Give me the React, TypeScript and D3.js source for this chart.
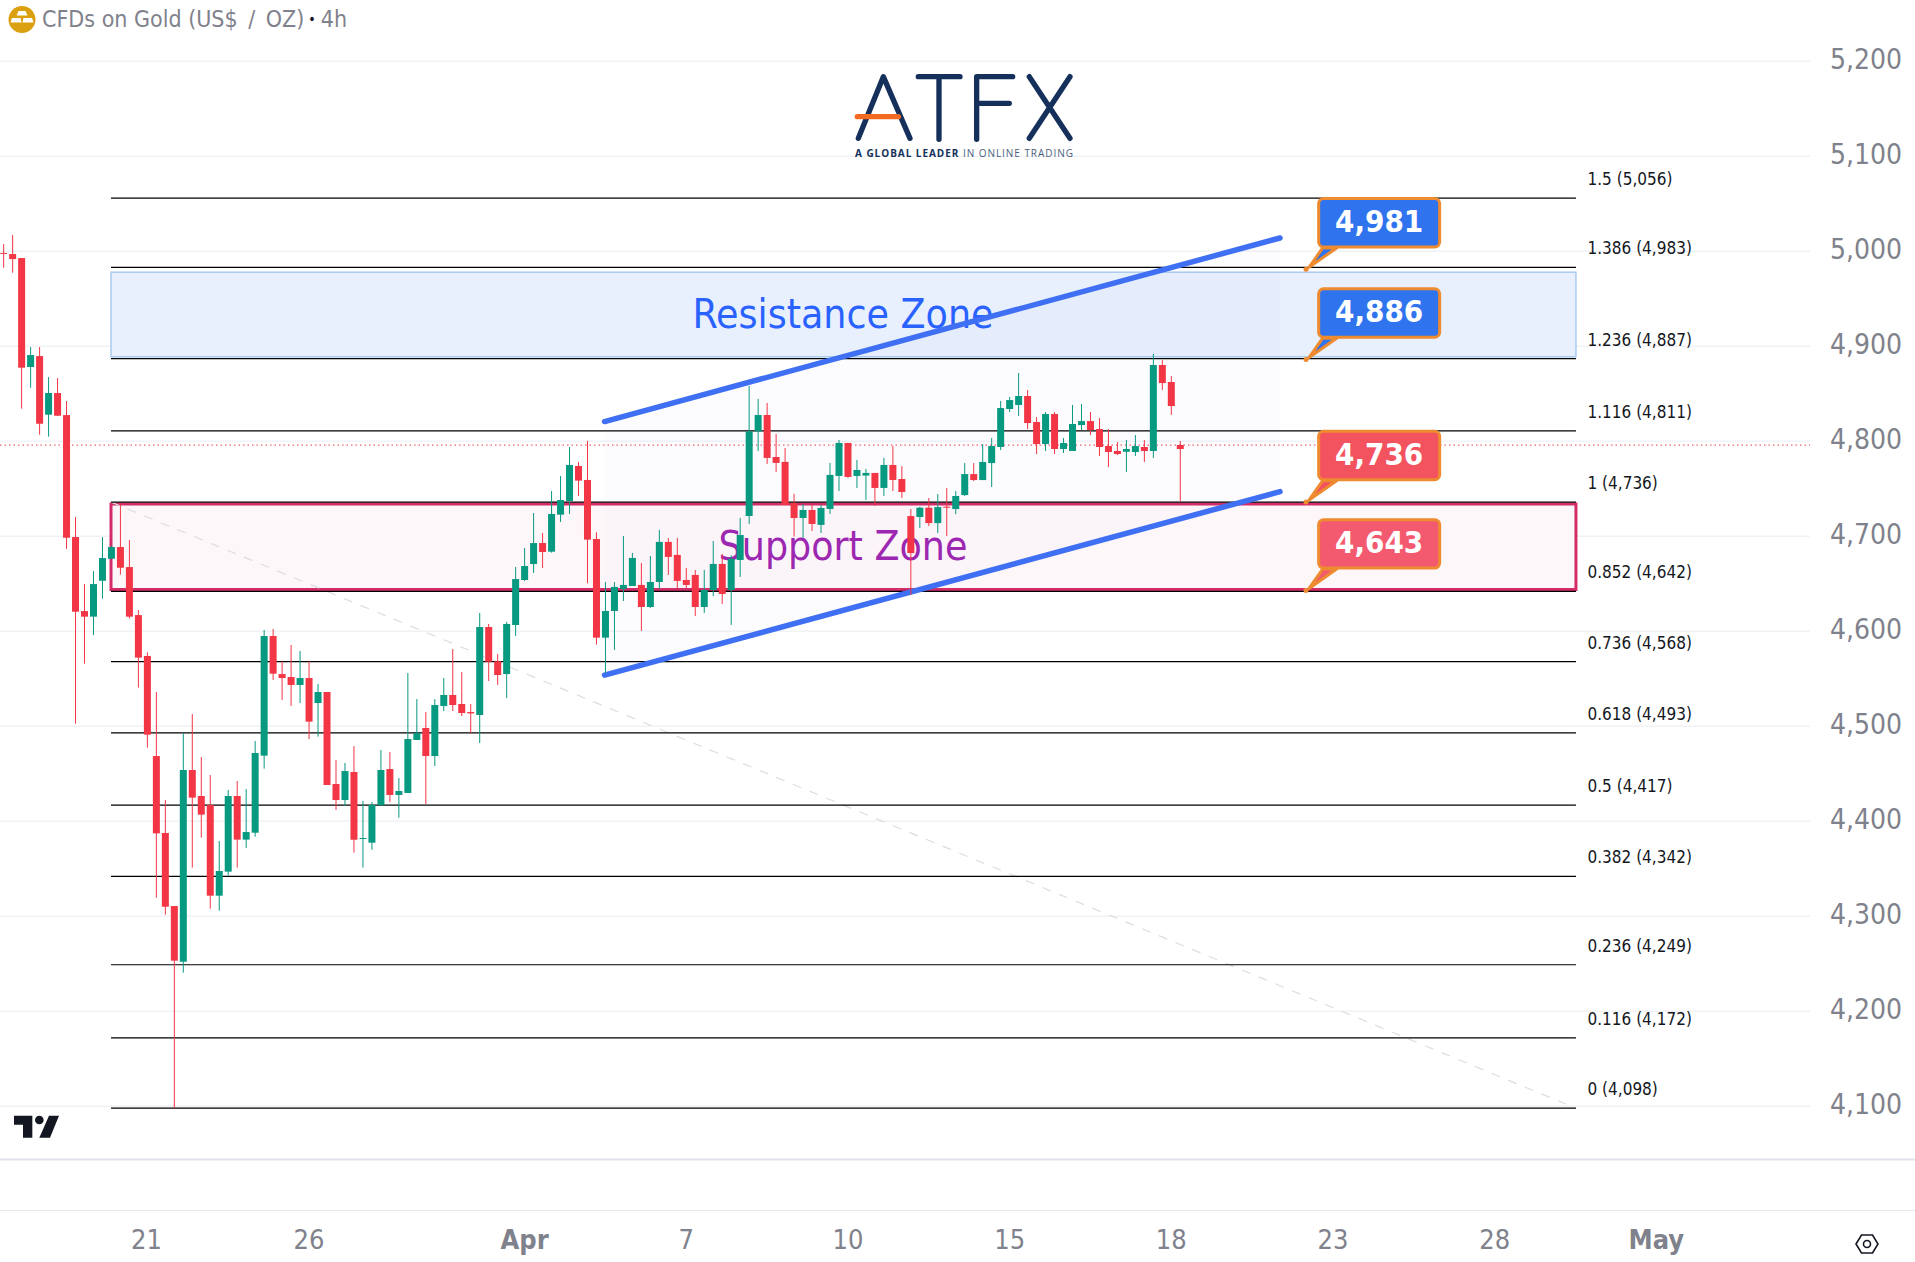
import * as d3 from "d3";

// prices, one entry per bar
const opens = [
  4998.3, 4997.1, 4992.9, 4878.2, 4889.7, 4828, 4850.8, 4827.6, 4699.2, 4621.3, 4615.4, 4653.2, 4676.4, 4688.7, 4667.6, 4617.1, 4574, 4468.7, 4387.7, 4310.8,
  4252.2, 4454, 4426.6, 4417.2, 4321.7, 4347, 4426.6, 4380.7, 4388, 4469.1, 4595, 4555, 4551.9, 4543.5, 4550.8, 4524.5, 4536.1, 4439.3, 4422.4, 4451.9,
  4381.4, 4377.5, 4416.8, 4455, 4427.7, 4429.8, 4485.6, 4498.2, 4468.7, 4521.4, 4533, 4523.5, 4515, 4511.9, 4604.5, 4568.4, 4555, 4606.6, 4654, 4670.8,
  4692.9, 4683.8, 4722.8, 4737.2, 4774, 4759.3, 4697.2, 4593.3, 4621.4, 4644.6, 4647.7, 4648.8, 4625.6, 4651.9, 4694.1, 4680.4, 4654, 4659.3, 4625.6, 4643.5,
  4670.9, 4643.5, 4675.1, 4721.4, 4810.5, 4827.7, 4783.5, 4778.3, 4735, 4719.3, 4727.7, 4712, 4728.8, 4763.5, 4798.3, 4763.5, 4763.9, 4766.7, 4750.9, 4775.1,
  4760.3, 4721.3, 4720.3, 4730.1, 4713.9, 4731.2, 4728.7, 4743.4, 4765.5, 4759.2, 4777.1, 4794, 4834, 4838.2, 4847.7, 4820.3, 4797.1, 4828.7, 4791.9, 4789.8,
  4817.1, 4821.3, 4812.9, 4795, 4789.8, 4789, 4788.7, 4794, 4789.8, 4880.3, 4862.4, 4796.1,
];
const highs = [
  5007.6, 5017.1, 4992.9, 4899.2, 4899.2, 4867.6, 4866.6, 4842.4, 4720.3, 4649.7, 4663.4, 4699.2, 4690, 4732.9, 4696, 4622.4, 4577.9, 4536.1, 4422.4, 4310.8,
  4492.6, 4512.9, 4467.7, 4448.7, 4379.3, 4432.9, 4442.4, 4434, 4484.5, 4601.4, 4602.4, 4568.4, 4585.6, 4579.3, 4568.4, 4544.5, 4536.1, 4464.5, 4461.4, 4479.2,
  4421.4, 4420.3, 4475, 4472.9, 4445.6, 4556.1, 4528.7, 4515, 4528.7, 4550.8, 4581.4, 4557.1, 4523.5, 4619.3, 4607.7, 4576.1, 4609.8, 4667.7, 4687.7, 4724.5,
  4703.5, 4747.7, 4763.5, 4794, 4778.2, 4800.4, 4704.2, 4651.9, 4651.9, 4700.4, 4682.5, 4672, 4679.3, 4706.7, 4698.3, 4698.3, 4666.7, 4664.6, 4664.6, 4695.1,
  4681.4, 4680, 4719.3, 4858.3, 4844.6, 4840.4, 4807.7, 4793, 4744.6, 4734, 4733, 4733, 4777.2, 4801.4, 4798.3, 4780.4, 4770.9, 4766.7, 4782.5, 4795.1,
  4773.9, 4728.7, 4731, 4740.3, 4744.5, 4750.8, 4747.7, 4777.1, 4777.1, 4797.1, 4803.4, 4842.4, 4846.6, 4871.9, 4854, 4825.5, 4830.8, 4830.8, 4803.4, 4838.2,
  4839.2, 4830.8, 4824.5, 4812.9, 4799.2, 4801.3, 4806.6, 4801.3, 4891.9, 4885.5, 4868.7, 4800.3,
];
const lows = [
  4982.7, 4977.5, 4834.3, 4856.4, 4806.9, 4804.8, 4826.9, 4686.9, 4502.8, 4565.9, 4596.1, 4634.3, 4676, 4659.6, 4613.3, 4540.7, 4477.5, 4319.6, 4301.7, 4097.9,
  4240.7, 4351.2, 4382.8, 4308, 4305.9, 4342.8, 4351.2, 4371.9, 4383.8, 4455.4, 4548.7, 4527.7, 4521.4, 4524.5, 4486.6, 4489.1, 4438.2, 4411.9, 4416.1, 4367,
  4351.2, 4370.1, 4416.8, 4420.3, 4403.8, 4429.8, 4485.6, 4418.2, 4458.2, 4516.1, 4516.1, 4510.8, 4492.6, 4482.4, 4547.7, 4543.5, 4529.8, 4595, 4652.9, 4661.4,
  4666.6, 4682.8, 4715.1, 4723.5, 4742.5, 4650.5, 4586, 4555.7, 4580.4, 4631.9, 4647.7, 4600.4, 4624.5, 4644.6, 4659.3, 4645.6, 4645.6, 4616.1, 4619.3, 4637.2,
  4628.8, 4606.7, 4657.2, 4713, 4789.8, 4776.2, 4767.7, 4733, 4699.7, 4698.3, 4705.6, 4703.5, 4723.5, 4747.7, 4761.5, 4750.9, 4738.3, 4732, 4742.5, 4747.7,
  4740.3, 4638.2, 4708.7, 4710.8, 4703.4, 4700.3, 4723.4, 4742.4, 4758.2, 4759.2, 4751.9, 4790.8, 4830.8, 4826.6, 4812.9, 4786.6, 4789.8, 4786.6, 4787.7, 4789.8,
  4811.9, 4806.6, 4784.5, 4772.9, 4785.5, 4767.7, 4784.5, 4778.2, 4782.4, 4854, 4827.7, 4736.8,
];
const closes = [
  4997.4, 4991.8, 4877.5, 4890.8, 4818.5, 4850.8, 4826.9, 4698.5, 4620.6, 4615.4, 4649.7, 4677.1, 4688.7, 4666.9, 4615.4, 4572.3, 4491.2, 4387.3, 4310.1, 4253.3,
  4454, 4424.9, 4407, 4321.7, 4347.7, 4426.6, 4380.7, 4388.7, 4471.9, 4595, 4555.4, 4550.8, 4543.5, 4550.8, 4504.9, 4536.1, 4438.2, 4422.4, 4452.9, 4380.6,
  4382.4, 4417.2, 4454, 4427.7, 4431.9, 4486.6, 4492.9, 4468.7, 4522.4, 4533, 4522.4, 4514, 4513.6, 4604.5, 4568, 4554, 4607.7, 4655, 4668.7, 4692.9,
  4683.5, 4723.5, 4738.2, 4775.1, 4758.6, 4696.5, 4593.3, 4621.4, 4646.7, 4648.8, 4677.2, 4625.6, 4651.9, 4694.1, 4678.3, 4653, 4648.8, 4625.6, 4643.5, 4670.9,
  4639.3, 4676.2, 4701.4, 4810.5, 4827.7, 4782.5, 4777.2, 4733, 4719.3, 4727.7, 4713, 4729.8, 4764.6, 4798.3, 4762.5, 4769.8, 4766.7, 4750.9, 4775.1, 4759.3,
  4746.6, 4682.4, 4730.1, 4713.9, 4730.8, 4730.1, 4742.4, 4765.5, 4759.2, 4778.2, 4795, 4835, 4843.4, 4847.7, 4819.2, 4797.1, 4828.7, 4791.9, 4798.2, 4818.2,
  4821.3, 4811.9, 4794, 4788.7, 4786.6, 4791.9, 4795, 4789.8, 4880.3, 4861.3, 4837.1, 4791.9,
];

const priceTicks = [5200, 5100, 5000, 4900, 4800, 4700, 4600, 4500, 4400, 4300, 4200, 4100];
const timeLabels = ["21", "26", "Apr", "7", "10", "15", "18", "23", "28", "May"];
const timeIndexes = [15.9, 34, 58, 76, 94, 112, 130, 148, 166, 184];
const boldLabels = ["Apr", "May"];

const fibRatios = ["1.5", "1.386", "1.236", "1.116", "1", "0.852", "0.736", "0.618", "0.5", "0.382", "0.236", "0.116", "0"];
const fibPrices = [5056, 4983, 4887, 4811, 4736, 4642, 4568, 4493, 4417, 4342, 4249, 4172, 4098];

const calloutPrices = [4981, 4886, 4736, 4643];
const calloutColors = ["#2f74ee", "#2f74ee", "#f2535f", "#f35a70"];

const lastPrice = 4796;
const fibStart = 11.95;
const fibEnd = 175.05;
const calloutIndex = 145;
const channelIndexes = [66.9, 142.1];
const channelUpper = [4820.8, 5014];
const channelLower = [4553.9, 4747];
const resistanceZone = [4978, 4889];
const supportZone = [4734, 4644];

const FONT = "'DejaVu Sans Condensed', 'DejaVu Sans', sans-serif";
const GREY = "#7f828c";
const RED = "#f23645";
const GREEN = "#089981";

const WIDTH = 1915;
const HEIGHT = 1262;

const x = d3.scaleLinear().domain([0, 131]).range([3.67, 1180.3]);
const y = d3.scaleLinear().domain([4100, 5000]).range([1106.3, 251.3]);
const fmt = d3.format(",");

const Logo = () => {
  const navy = "#15305b";
  return (
    <g transform="translate(820,50) scale(0.3333)" fill="none" stroke={navy} strokeWidth="16" strokeLinecap="round" strokeLinejoin="round">
      <path d="M115,265 L190,80 L270,265" />
      <path d="M295,80 L420,80 M357,80 L357,268" />
      <path d="M470,268 L470,80 L578,80 M470,160 L568,160" />
      <path d="M628,80 L750,265 M750,80 L628,265" />
      <path d="M112,200 L235,200" stroke="#f26b21" />
    </g>
  );
};

const TvLogo = () => (
  <g transform="translate(0,1080) scale(0.3333)" fill="#131722">
    <path d="M42,107 L97,107 L97,173 L69,173 L69,134 L42,134 Z" />
    <circle cx="118" cy="120" r="13" />
    <path d="M147,107 L177,107 L150,173 L118,173 Z" />
  </g>
);

const Header = () => (
  <g>
    <circle cx="22" cy="19.5" r="13.5" fill="#dba00f" />
    <path d="M18.5,11 L25.5,11 L27.5,15.5 L16.5,15.5 Z M12,18 L20.5,18 L21.5,22.5 L10.5,22.5 Z M23.5,18 L32,18 L33.5,22.5 L22.5,22.5 Z" fill="#fff" />
    <text x="42" y="20" dominantBaseline="middle" fontFamily={FONT} fontSize="23" fill={GREY}>
      CFDs on Gold (US$ <tspan dx="4">/</tspan> <tspan dx="4">OZ)</tspan>
      <tspan fill="#131722" fontSize="14" dx="4">•</tspan>
      <tspan dx="5">4h</tspan>
    </text>
  </g>
);

const Callout = ({ price, color }: { price: number; color: string }) => {
  const tipX = x(calloutIndex);
  const tipY = y(price);
  const left = tipX + 12.6;
  const bottom = tipY - 22.4;
  const top = bottom - 48.4;
  return (
    <g>
      <path d={`M${tipX + 3},${tipY - 2} L${left + 4},${bottom + 1} L${left + 18},${bottom + 1} Z`} fill={color} stroke="#ee8a2f" strokeWidth="3" strokeLinejoin="round" />
      <circle cx={tipX} cy={tipY} r="2.5" fill="#ee8a2f" />
      <rect x={left} y={top} width={121} height={48.4} rx="5" fill={color} stroke="#ee8a2f" strokeWidth="3" />
      <text x={left + 60.5} y={top + 25} textAnchor="middle" dominantBaseline="middle" fontFamily={FONT} fontWeight="bold" fontSize="31" fill="#fff">
        {fmt(price)}
      </text>
    </g>
  );
};

const App = () => {
  const bars = d3.range(opens.length);
  const channelPath = `M${x(channelIndexes[0])},${y(channelUpper[0])} L${x(channelIndexes[1])},${y(channelUpper[1])} L${x(channelIndexes[1])},${y(channelLower[1])} L${x(channelIndexes[0])},${y(channelLower[0])} Z`;
  return (
    <svg width={WIDTH} height={HEIGHT} style={{ position: "absolute", left: 0, top: 0, background: "#fff" }}>
      {priceTicks.map((p) => (
        <line key={p} x1={0} x2={1810} y1={y(p)} y2={y(p)} stroke="#f0f2f6" strokeWidth="1.5" />
      ))}
      <line x1={0} x2={WIDTH} y1={1159.5} y2={1159.5} stroke="#e0e3eb" strokeWidth="2" />
      <line x1={0} x2={WIDTH} y1={1210.5} y2={1210.5} stroke="#e6e8ee" strokeWidth="1" />

      <line x1={0} x2={1810} y1={y(lastPrice)} y2={y(lastPrice)} stroke={RED} strokeWidth="1" strokeDasharray="1.5 3" />

      <Logo />
      <text x="855" y="153.5" dominantBaseline="middle" fontFamily="'Open Sans', sans-serif" fontSize="10" textLength="218" fill="#15305b">
        <tspan fontWeight="bold">A GLOBAL LEADER</tspan>
        <tspan fill="#4c5f80"> IN ONLINE TRADING</tspan>
      </text>

      {/* zones */}
      <rect
        x={x(fibStart)}
        y={y(resistanceZone[0])}
        width={x(fibEnd) - x(fibStart)}
        height={y(resistanceZone[1]) - y(resistanceZone[0])}
        fill="#e8f0fd"
        stroke="#a9cbee"
        strokeWidth="1.5"
      />
      <rect
        x={x(fibStart)}
        y={y(supportZone[0])}
        width={x(fibEnd) - x(fibStart)}
        height={y(supportZone[1]) - y(supportZone[0])}
        fill="#fef7fa"
        stroke="#d32c68"
        strokeWidth="3"
      />
      <path d={channelPath} fill="#6a4de0" fillOpacity="0.02" />

      {/* fib levels */}
      <line x1={x(fibStart)} y1={y(fibPrices[4])} x2={x(fibEnd)} y2={y(fibPrices[12])} stroke="#dcdde0" strokeWidth="1.2" strokeDasharray="9 9" />
      {fibPrices.map((p, i) => (
        <g key={p}>
          <line x1={x(fibStart)} x2={x(fibEnd)} y1={y(p)} y2={y(p)} stroke="#000" strokeWidth="1.2" />
          <text x="1587.5" y={y(p) - 18} dominantBaseline="middle" fontFamily={FONT} fontSize="17" fill="#131722">
            {fibRatios[i]} ({fmt(p)})
          </text>
        </g>
      ))}

      <text x="843" y="316.5" textAnchor="middle" dominantBaseline="middle" fontFamily={FONT} fontSize="40.6" fill="#2962ff">
        Resistance Zone
      </text>
      <text x="843" y="549" textAnchor="middle" dominantBaseline="middle" fontFamily={FONT} fontSize="40.6" fill="#9c27b0">
        Support Zone
      </text>

      {/* channel */}
      <g stroke="#3f6ff2" strokeWidth="5.5" strokeLinecap="round">
        <line x1={x(channelIndexes[0])} y1={y(channelUpper[0])} x2={x(channelIndexes[1])} y2={y(channelUpper[1])} />
        <line x1={x(channelIndexes[0])} y1={y(channelLower[0])} x2={x(channelIndexes[1])} y2={y(channelLower[1])} />
      </g>

      {/* candles */}
      {bars.map((i) => {
        const up = closes[i] >= opens[i];
        const color = up ? GREEN : RED;
        const top = y(Math.max(opens[i], closes[i]));
        const bottom = y(Math.min(opens[i], closes[i]));
        return (
          <g key={i}>
            <line x1={x(i)} x2={x(i)} y1={y(highs[i])} y2={y(lows[i])} stroke={color} strokeWidth="1" />
            <rect x={x(i) - 3.5} y={top} width={7} height={Math.max(bottom - top, 1)} fill={color} />
          </g>
        );
      })}

      {calloutPrices.map((p, i) => (
        <Callout key={p} price={p} color={calloutColors[i]} />
      ))}

      {/* axes */}
      {priceTicks.map((p) => (
        <text key={p} x="1830" y={y(p)} dominantBaseline="middle" fontFamily={FONT} fontSize="28" fill={GREY}>
          {fmt(p)}
        </text>
      ))}
      {timeLabels.map((t, i) => (
        <text
          key={t}
          x={x(timeIndexes[i])}
          y="1241"
          textAnchor="middle"
          dominantBaseline="middle"
          fontFamily={FONT}
          fontSize="27"
          fontWeight={boldLabels.includes(t) ? "bold" : "normal"}
          fill={GREY}
        >
          {t}
        </text>
      ))}

      <Header />
      <TvLogo />
      <g transform="translate(1867,1244)" fill="none" stroke="#131722" strokeWidth="1.6">
        <path d="M-11,0 L-5.5,-9 L5.5,-9 L11,0 L5.5,9 L-5.5,9 Z" />
        <circle r="3.5" />
      </g>
    </svg>
  );
};

export default App;
